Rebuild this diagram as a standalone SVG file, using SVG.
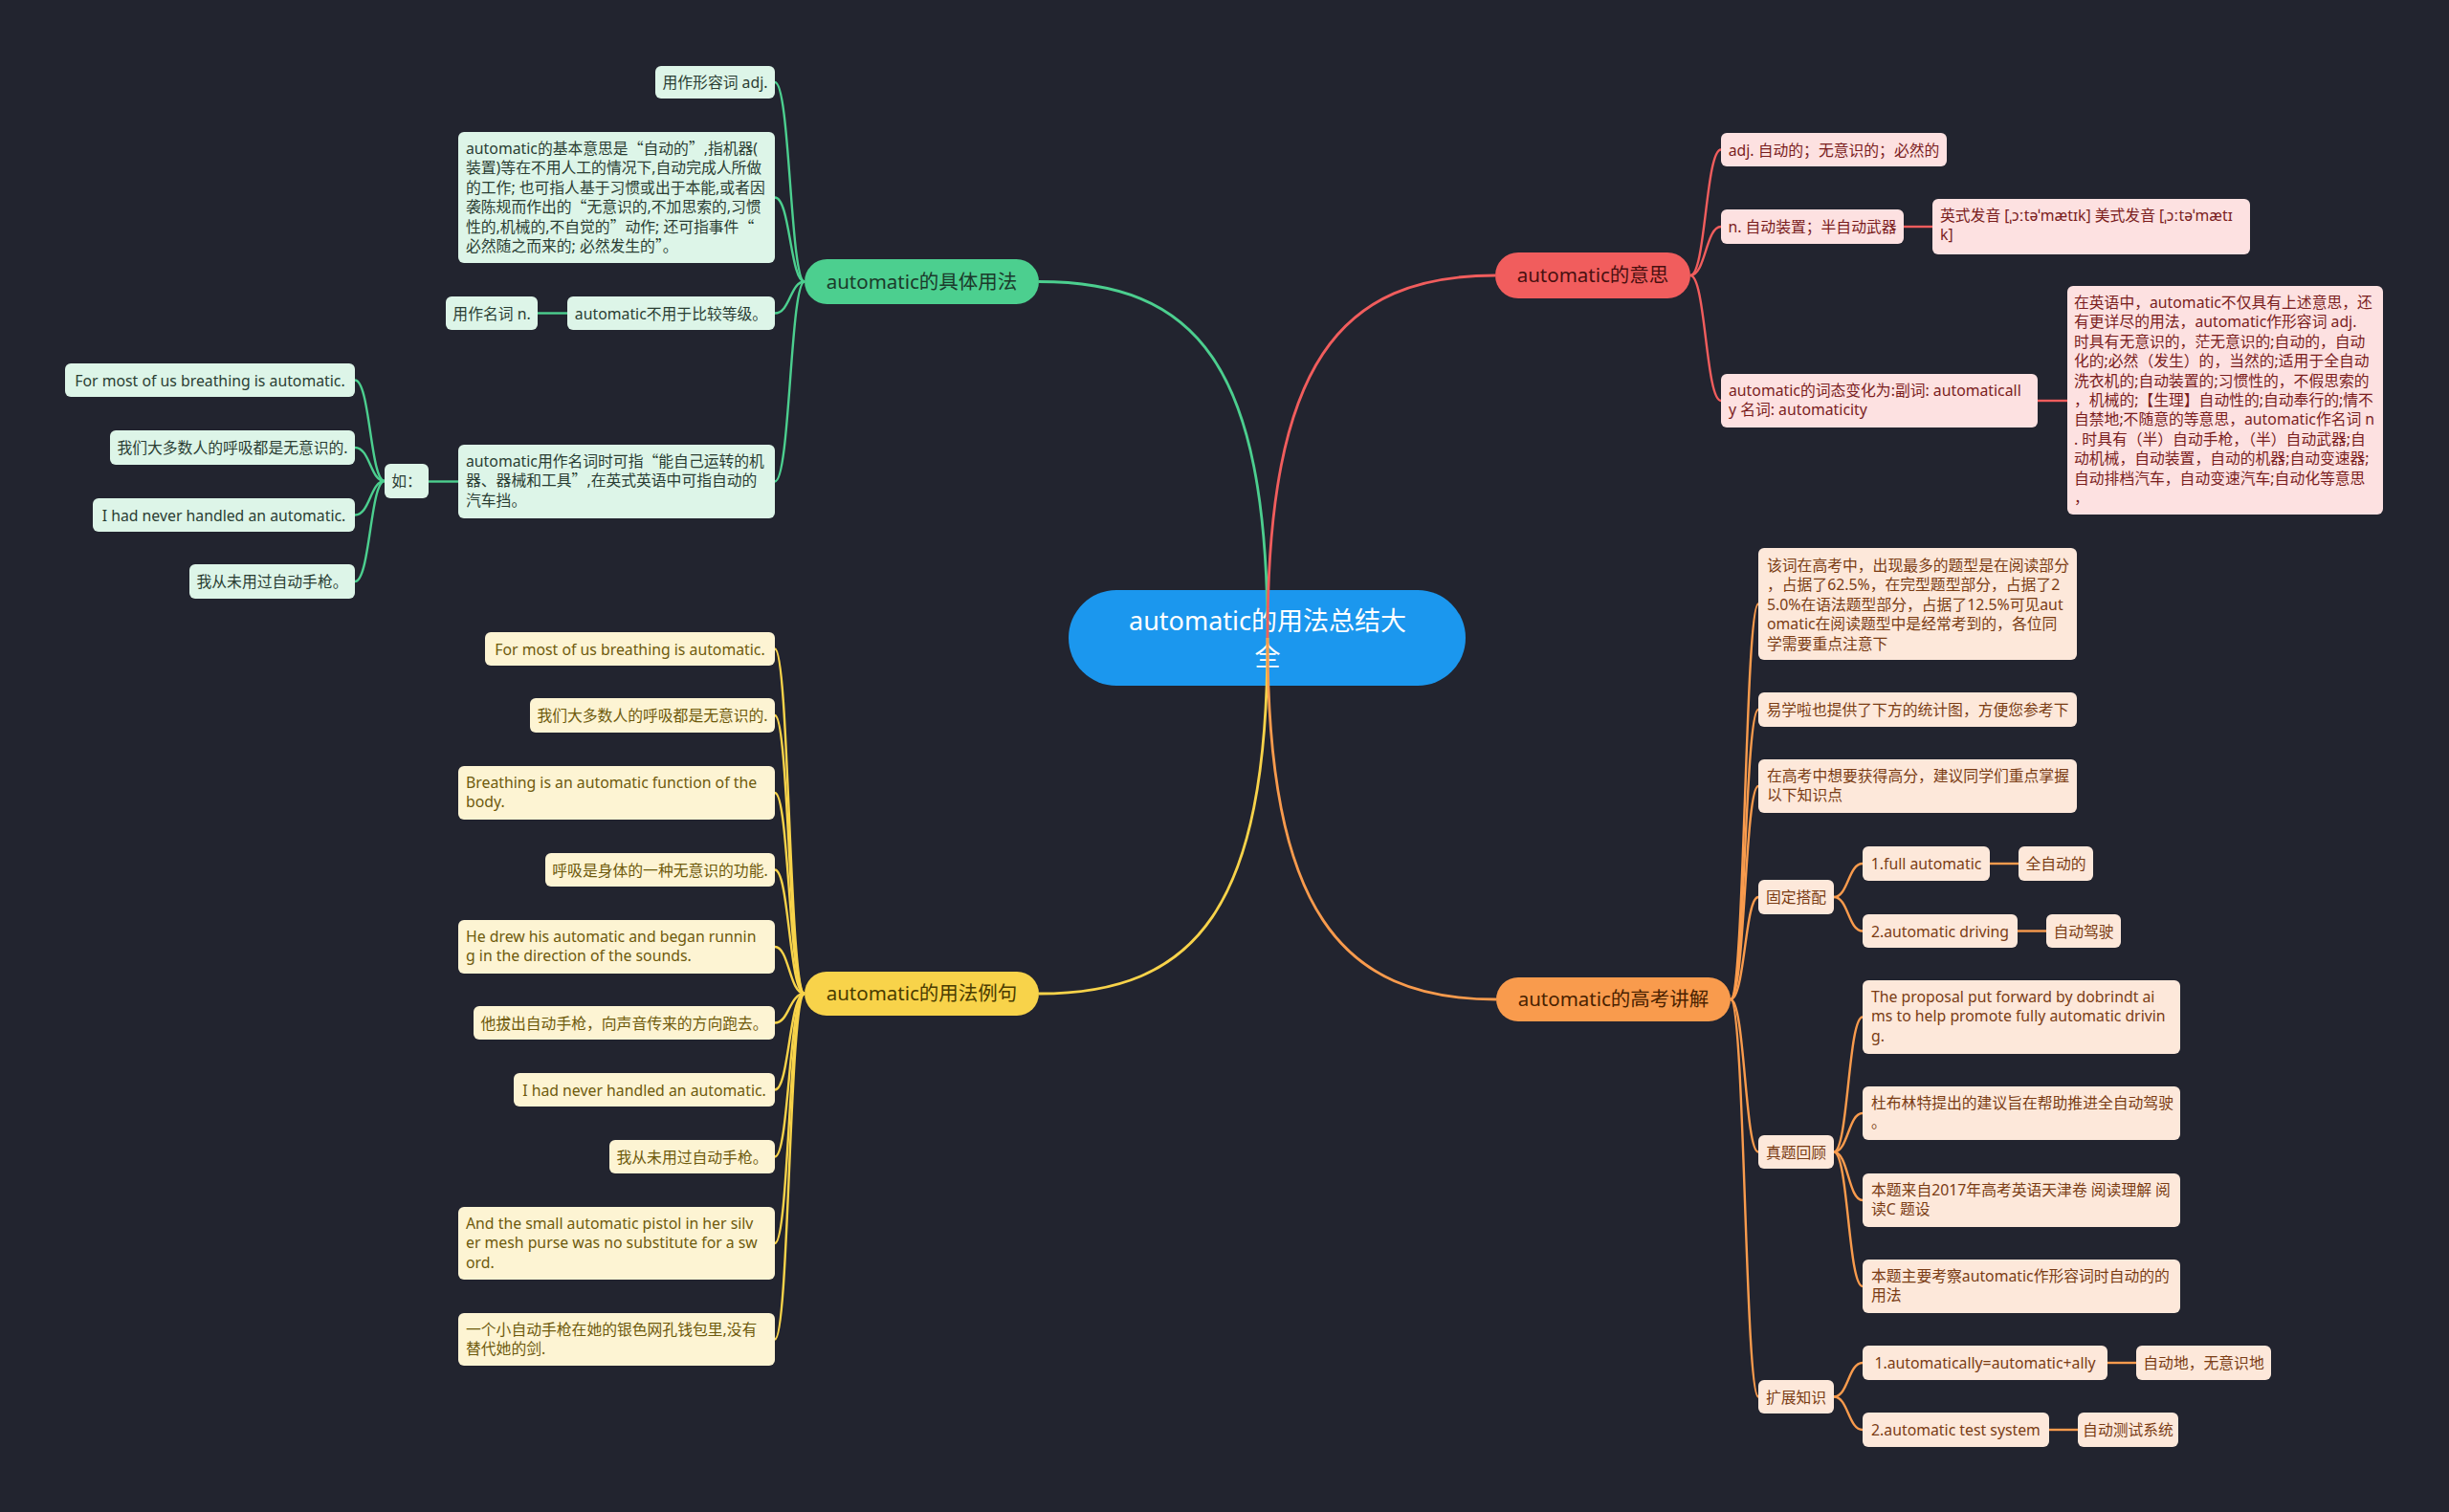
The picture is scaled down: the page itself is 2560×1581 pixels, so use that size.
<svg xmlns="http://www.w3.org/2000/svg" width="2560" height="1581" viewBox="0 0 2560 1581">
<style>
text{font-family:"Noto Sans","Noto Sans CJK SC",sans-serif;}
.q{font-family:"Noto Sans CJK SC",sans-serif;}
.t{font-size:15.8px;}
.c{text-anchor:middle;}
.main{font-size:20.5px;text-anchor:middle;}
.root{font-size:27px;text-anchor:middle;fill:#ffffff;}
.gn rect{fill:#ddf5e8;} .gn text{fill:#2a3d33;}
.rn rect{fill:#fde1e1;} .rn text{fill:#7a1d1d;}
.yn rect{fill:#fdf4d3;} .yn text{fill:#6e5a0c;}
.on rect{fill:#fde8da;} .on text{fill:#7a3c14;}
.lk{fill:none;stroke-width:2.4;}
.lg{stroke:#4ccf8f;} .lr{stroke:#f15d5d;} .ly{stroke:#f8d34a;} .lo{stroke:#f99b4d;}
.mb{stroke-width:2.8;}
</style>
<rect x="0" y="0" width="2560" height="1581" fill="#22242f"/>

<g id="root">
<rect x="1117" y="617" width="415" height="100" rx="50" fill="#1b97ee"/>
<text class="root" x="1325" y="659">automatic的用法总结大</text>
<text class="root" x="1325" y="696">全</text>
</g>

<g id="connectors">
<path class="lk lg mb" d="M1325 667 C1325 380 1250 294.5 1086 294.5"/>
<path class="lk lr mb" d="M1325 667 C1325 380 1400 288 1563 288"/>
<path class="lk ly mb" d="M1325 667 C1325 950 1250 1039 1086 1039"/>
<path class="lk lo mb" d="M1325 667 C1325 950 1400 1045 1564 1045"/>
<path class="lk lg" d="M841 294.5 C826 294.5 826 86 810 86"/>
<path class="lk lg" d="M841 294.5 C826 294.5 826 206.5 810 206.5"/>
<path class="lk lg" d="M841 294.5 C826 294.5 826 327.5 810 327.5"/>
<path class="lk lg" d="M841 294.5 C826 294.5 826 503.5 810 503.5"/>
<path class="lk lg" d="M593 327.5 H562"/>
<path class="lk lg" d="M479 503.5 H448"/>
<path class="lk lg" d="M402 503 C387 503 387 397.5 371 397.5"/>
<path class="lk lg" d="M402 503 C387 503 387 468 371 468"/>
<path class="lk lg" d="M402 503 C387 503 387 538.5 371 538.5"/>
<path class="lk lg" d="M402 503 C387 503 387 608 371 608"/>
<path class="lk lr" d="M1767 288 C1783 288 1783 156.5 1799 156.5"/>
<path class="lk lr" d="M1767 288 C1783 288 1783 237 1799 237"/>
<path class="lk lr" d="M1767 288 C1783 288 1783 419 1799 419"/>
<path class="lk lr" d="M1990 237 H2020"/>
<path class="lk lr" d="M2130 419 H2161"/>
<path class="lk ly" d="M841 1039 C825 1039 825 678.5 810 678.5"/>
<path class="lk ly" d="M841 1039 C825 1039 825 748 810 748"/>
<path class="lk ly" d="M841 1039 C825 1039 825 829 810 829"/>
<path class="lk ly" d="M841 1039 C825 1039 825 909.5 810 909.5"/>
<path class="lk ly" d="M841 1039 C825 1039 825 990 810 990"/>
<path class="lk ly" d="M841 1039 C825 1039 825 1069.5 810 1069.5"/>
<path class="lk ly" d="M841 1039 C825 1039 825 1139.5 810 1139.5"/>
<path class="lk ly" d="M841 1039 C825 1039 825 1209.5 810 1209.5"/>
<path class="lk ly" d="M841 1039 C825 1039 825 1300 810 1300"/>
<path class="lk ly" d="M841 1039 C825 1039 825 1400.5 810 1400.5"/>
<path class="lk lo" d="M1809 1045 C1824 1045 1824 631.5 1838 631.5"/>
<path class="lk lo" d="M1809 1045 C1824 1045 1824 742 1838 742"/>
<path class="lk lo" d="M1809 1045 C1824 1045 1824 822 1838 822"/>
<path class="lk lo" d="M1809 1045 C1824 1045 1824 938 1838 938"/>
<path class="lk lo" d="M1809 1045 C1824 1045 1824 1204.5 1838 1204.5"/>
<path class="lk lo" d="M1809 1045 C1824 1045 1824 1460.5 1838 1460.5"/>
<path class="lk lo" d="M1917 938 C1932 938 1932 903 1947 903"/>
<path class="lk lo" d="M1917 938 C1932 938 1932 973.5 1947 973.5"/>
<path class="lk lo" d="M1917 1204.5 C1932 1204.5 1932 1063.5 1947 1063.5"/>
<path class="lk lo" d="M1917 1204.5 C1932 1204.5 1932 1164 1947 1164"/>
<path class="lk lo" d="M1917 1204.5 C1932 1204.5 1932 1255 1947 1255"/>
<path class="lk lo" d="M1917 1204.5 C1932 1204.5 1932 1345 1947 1345"/>
<path class="lk lo" d="M1917 1460.5 C1932 1460.5 1932 1425 1947 1425"/>
<path class="lk lo" d="M1917 1460.5 C1932 1460.5 1932 1495 1947 1495"/>
<path class="lk lo" d="M2080 903 H2110"/>
<path class="lk lo" d="M2109 973.5 H2139"/>
<path class="lk lo" d="M2203 1425 H2233"/>
<path class="lk lo" d="M2142 1495 H2172"/>
</g>

<g id="b-green"><rect x="841" y="271" width="245" height="47" rx="23.5" fill="#4ccf8f"/><text class="main" x="963.5" y="302" fill="#1b3a2b">automatic的具体用法</text></g>
<g id="b-red"><rect x="1563" y="264" width="204" height="48" rx="24" fill="#f15d5d"/><text class="main" x="1665" y="295" fill="#4a1010">automatic的意思</text></g>
<g id="b-yellow"><rect x="841" y="1016" width="245" height="46" rx="23" fill="#f8d34a"/><text class="main" x="963.5" y="1046" fill="#4a3b00">automatic的用法例句</text></g>
<g id="b-orange"><rect x="1564" y="1022" width="245" height="46" rx="23" fill="#f99b4d"/><text class="main" x="1686.5" y="1052" fill="#4a2200">automatic的高考讲解</text></g>

<g id="g1" class="gn"><rect x="685" y="69" width="125" height="34" rx="6"/><text class="t c" x="747.5" y="91.5">用作形容词 adj.</text></g>
<g id="g2" class="gn"><rect x="479" y="138" width="331" height="137" rx="6"/><text class="t" x="487" y="161"><tspan x="487">automatic的基本意思是<tspan class="q">“</tspan>自动的<tspan class="q">”</tspan>,指机器(</tspan><tspan x="487" dy="20.4">装置)等在不用人工的情况下,自动完成人所做</tspan><tspan x="487" dy="20.4">的工作; 也可指人基于习惯或出于本能,或者因</tspan><tspan x="487" dy="20.4">袭陈规而作出的<tspan class="q">“</tspan>无意识的,不加思索的,习惯</tspan><tspan x="487" dy="20.4">性的,机械的,不自觉的<tspan class="q">”</tspan>动作; 还可指事件<tspan class="q">“</tspan></tspan><tspan x="487" dy="20.4">必然随之而来的; 必然发生的<tspan class="q">”</tspan>。</tspan></text></g>
<g id="g3" class="gn"><rect x="593" y="310" width="217" height="35" rx="6"/><text class="t c" x="701.5" y="333.5">automatic不用于比较等级。</text></g>
<g id="g3a" class="gn"><rect x="466" y="310" width="96" height="35" rx="6"/><text class="t c" x="514" y="333.5">用作名词 n.</text></g>
<g id="g4" class="gn"><rect x="479" y="465" width="331" height="77" rx="6"/><text class="t" x="487" y="488"><tspan x="487">automatic用作名词时可指<tspan class="q">“</tspan>能自己运转的机</tspan><tspan x="487" dy="20.4">器、器械和工具<tspan class="q">”</tspan>,在英式英语中可指自动的</tspan><tspan x="487" dy="20.4">汽车挡。</tspan></text></g>
<g id="g4a" class="gn"><rect x="402" y="485" width="46" height="36" rx="6"/><text class="t c" x="425" y="509">如：</text></g>
<g id="g4a1" class="gn"><rect x="68" y="380" width="303" height="35" rx="6"/><text class="t c" x="219.5" y="403.5">For most of us breathing is automatic.</text></g>
<g id="g4a2" class="gn"><rect x="115" y="450" width="256" height="36" rx="6"/><text class="t c" x="243" y="474">我们大多数人的呼吸都是无意识的.</text></g>
<g id="g4a3" class="gn"><rect x="97" y="521" width="274" height="35" rx="6"/><text class="t c" x="234" y="544.5">I had never handled an automatic.</text></g>
<g id="g4a4" class="gn"><rect x="198" y="590" width="173" height="36" rx="6"/><text class="t c" x="284.5" y="614">我从未用过自动手枪。</text></g>

<g id="r1" class="rn"><rect x="1799" y="139" width="236" height="35" rx="6"/><text class="t c" x="1917" y="162.5">adj. 自动的；无意识的；必然的</text></g>
<g id="r2" class="rn"><rect x="1799" y="219" width="191" height="36" rx="6"/><text class="t c" x="1894.5" y="243">n. 自动装置；半自动武器</text></g>
<g id="r2a" class="rn"><rect x="2020" y="208" width="332" height="58" rx="6"/><text class="t" x="2028" y="231"><tspan x="2028">英式发音 [ˌɔːtəˈmætɪk] 美式发音 [ˌɔːtəˈmætɪ</tspan><tspan x="2028" dy="20.4">k]</tspan></text></g>
<g id="r3" class="rn"><rect x="1799" y="391" width="331" height="56" rx="6"/><text class="t" x="1807" y="414"><tspan x="1807">automatic的词态变化为:副词: automaticall</tspan><tspan x="1807" dy="20.4">y 名词: automaticity</tspan></text></g>
<g id="r3a" class="rn"><rect x="2161" y="299" width="330" height="239" rx="6"/><text class="t" x="2168" y="322"><tspan x="2168">在英语中，automatic不仅具有上述意思，还</tspan><tspan x="2168" dy="20.4">有更详尽的用法，automatic作形容词 adj.</tspan><tspan x="2168" dy="20.4">时具有无意识的，茫无意识的;自动的，自动</tspan><tspan x="2168" dy="20.4">化的;必然（发生）的，当然的;适用于全自动</tspan><tspan x="2168" dy="20.4">洗衣机的;自动装置的;习惯性的，不假思索的</tspan><tspan x="2168" dy="20.4">，机械的;【生理】自动性的;自动奉行的;情不</tspan><tspan x="2168" dy="20.4">自禁地;不随意的等意思，automatic作名词 n</tspan><tspan x="2168" dy="20.4">. 时具有（半）自动手枪，（半）自动武器;自</tspan><tspan x="2168" dy="20.4">动机械，自动装置，自动的机器;自动变速器;</tspan><tspan x="2168" dy="20.4">自动排档汽车，自动变速汽车;自动化等意思</tspan><tspan x="2168" dy="20.4">，</tspan></text></g>

<g id="y1" class="yn"><rect x="507" y="661" width="303" height="35" rx="6"/><text class="t c" x="658.5" y="684.5">For most of us breathing is automatic.</text></g>
<g id="y2" class="yn"><rect x="554" y="730" width="256" height="36" rx="6"/><text class="t c" x="682" y="754">我们大多数人的呼吸都是无意识的.</text></g>
<g id="y3" class="yn"><rect x="479" y="801" width="331" height="56" rx="6"/><text class="t" x="487" y="824"><tspan x="487">Breathing is an automatic function of the</tspan><tspan x="487" dy="20.4">body.</tspan></text></g>
<g id="y4" class="yn"><rect x="570" y="892" width="240" height="35" rx="6"/><text class="t c" x="690" y="915.5">呼吸是身体的一种无意识的功能.</text></g>
<g id="y5" class="yn"><rect x="479" y="962" width="331" height="56" rx="6"/><text class="t" x="487" y="985"><tspan x="487">He drew his automatic and began runnin</tspan><tspan x="487" dy="20.4">g in the direction of the sounds.</tspan></text></g>
<g id="y6" class="yn"><rect x="495" y="1052" width="315" height="35" rx="6"/><text class="t c" x="652.5" y="1075.5">他拔出自动手枪，向声音传来的方向跑去。</text></g>
<g id="y7" class="yn"><rect x="537" y="1122" width="273" height="35" rx="6"/><text class="t c" x="673.5" y="1145.5">I had never handled an automatic.</text></g>
<g id="y8" class="yn"><rect x="637" y="1192" width="173" height="35" rx="6"/><text class="t c" x="723.5" y="1215.5">我从未用过自动手枪。</text></g>
<g id="y9" class="yn"><rect x="479" y="1262" width="331" height="76" rx="6"/><text class="t" x="487" y="1285"><tspan x="487">And the small automatic pistol in her silv</tspan><tspan x="487" dy="20.4">er mesh purse was no substitute for a sw</tspan><tspan x="487" dy="20.4">ord.</tspan></text></g>
<g id="y10" class="yn"><rect x="479" y="1373" width="331" height="55" rx="6"/><text class="t" x="487" y="1396"><tspan x="487">一个小自动手枪在她的银色网孔钱包里,没有</tspan><tspan x="487" dy="20.4">替代她的剑.</tspan></text></g>

<g id="o1" class="on"><rect x="1838" y="573" width="333" height="117" rx="6"/><text class="t" x="1847" y="597"><tspan x="1847">该词在高考中，出现最多的题型是在阅读部分</tspan><tspan x="1847" dy="20.4">，占据了62.5%，在完型题型部分，占据了2</tspan><tspan x="1847" dy="20.4">5.0%在语法题型部分，占据了12.5%可见aut</tspan><tspan x="1847" dy="20.4">omatic在阅读题型中是经常考到的，各位同</tspan><tspan x="1847" dy="20.4">学需要重点注意下</tspan></text></g>
<g id="o2" class="on"><rect x="1838" y="724" width="333" height="36" rx="6"/><text class="t c" x="2004.5" y="748">易学啦也提供了下方的统计图，方便您参考下</text></g>
<g id="o3" class="on"><rect x="1838" y="794" width="333" height="56" rx="6"/><text class="t" x="1847" y="817"><tspan x="1847">在高考中想要获得高分，建议同学们重点掌握</tspan><tspan x="1847" dy="20.4">以下知识点</tspan></text></g>
<g id="o4" class="on"><rect x="1838" y="920" width="79" height="36" rx="6"/><text class="t c" x="1877.5" y="944">固定搭配</text></g>
<g id="o4a" class="on"><rect x="1947" y="885" width="133" height="36" rx="6"/><text class="t c" x="2013.5" y="909">1.full automatic</text></g>
<g id="o4a1" class="on"><rect x="2110" y="885" width="78" height="36" rx="6"/><text class="t c" x="2149" y="909">全自动的</text></g>
<g id="o4b" class="on"><rect x="1947" y="956" width="162" height="35" rx="6"/><text class="t c" x="2028" y="979.5">2.automatic driving</text></g>
<g id="o4b1" class="on"><rect x="2139" y="956" width="78" height="35" rx="6"/><text class="t c" x="2178" y="979.5">自动驾驶</text></g>
<g id="o5" class="on"><rect x="1838" y="1187" width="79" height="35" rx="6"/><text class="t c" x="1877.5" y="1210.5">真题回顾</text></g>
<g id="o5a" class="on"><rect x="1947" y="1025" width="332" height="77" rx="6"/><text class="t" x="1956" y="1048"><tspan x="1956">The proposal put forward by dobrindt ai</tspan><tspan x="1956" dy="20.4">ms to help promote fully automatic drivin</tspan><tspan x="1956" dy="20.4">g.</tspan></text></g>
<g id="o5b" class="on"><rect x="1947" y="1136" width="332" height="56" rx="6"/><text class="t" x="1956" y="1159"><tspan x="1956">杜布林特提出的建议旨在帮助推进全自动驾驶</tspan><tspan x="1956" dy="20.4">。</tspan></text></g>
<g id="o5c" class="on"><rect x="1947" y="1227" width="332" height="56" rx="6"/><text class="t" x="1956" y="1250"><tspan x="1956">本题来自2017年高考英语天津卷 阅读理解 阅</tspan><tspan x="1956" dy="20.4">读C 题设</tspan></text></g>
<g id="o5d" class="on"><rect x="1947" y="1317" width="332" height="56" rx="6"/><text class="t" x="1956" y="1340"><tspan x="1956">本题主要考察automatic作形容词时自动的的</tspan><tspan x="1956" dy="20.4">用法</tspan></text></g>
<g id="o6" class="on"><rect x="1838" y="1443" width="79" height="35" rx="6"/><text class="t c" x="1877.5" y="1466.5">扩展知识</text></g>
<g id="o6a" class="on"><rect x="1947" y="1407" width="256" height="36" rx="6"/><text class="t c" x="2075" y="1431">1.automatically=automatic+ally</text></g>
<g id="o6a1" class="on"><rect x="2233" y="1407" width="141" height="36" rx="6"/><text class="t c" x="2303.5" y="1431">自动地，无意识地</text></g>
<g id="o6b" class="on"><rect x="1947" y="1477" width="195" height="36" rx="6"/><text class="t c" x="2044.5" y="1501">2.automatic test system</text></g>
<g id="o6b1" class="on"><rect x="2172" y="1477" width="105" height="36" rx="6"/><text class="t c" x="2224.5" y="1501">自动测试系统</text></g>
</svg>
